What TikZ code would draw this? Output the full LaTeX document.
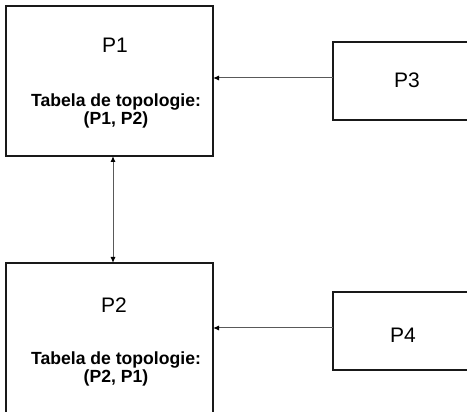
\documentclass[tikz,border=0pt]{standalone}
\usepackage{fontspec}
\setmainfont{Liberation Sans}
\usetikzlibrary{arrows.meta}
\begin{document}
\begin{tikzpicture}[x=1pt,y=-1pt,
  box/.style={draw=black!90, line width=1.3pt, inner sep=0, outer sep=0, anchor=north west},
  lbl/.style={font=\fontsize{21}{23}\selectfont, inner sep=0},
  tbl/.style={font=\bfseries\fontsize{17.6}{17.5}\selectfont, align=center, inner sep=0},
  conn/.style={draw=black!65, line width=1pt, -{Latex[length=6pt,width=5pt,color=black]}},
  dconn/.style={draw=black!65, line width=1pt, {Latex[length=6pt,width=5pt,color=black]}-{Latex[length=6pt,width=5pt,color=black]}}]
\useasboundingbox (0,0) rectangle (467,412);
\clip (0,0) rectangle (467,412);
% boxes
\node[box, minimum width=207pt, minimum height=150pt] (b1) at (6,6) {};
\node[box, minimum width=207pt, minimum height=150pt] (b2) at (6,263) {};
\node[box, minimum width=150pt, minimum height=78pt] (b3) at (333,42) {};
\node[box, minimum width=150pt, minimum height=78pt] (b4) at (333,292) {};
% labels
\node[lbl] (t1) at (115,45) {P1};
\node[tbl] (tt1) at (116,111) {Tabela de topologie:\\(P1, P2)};
\node[lbl] (t2) at (114,305) {P2};
\node[tbl] (tt2) at (116,369) {Tabela de topologie:\\(P2, P1)};
\node[lbl] (t3) at (407,80) {P3};
\node[lbl] (t4) at (403,335) {P4};
% connectors
\draw[conn] ([yshift=3pt]b3.west) -- ([yshift=3pt]b3.west -| b1.east);
\draw[conn] ([yshift=3pt]b4.west) -- ([yshift=3pt]b4.west -| b2.east);
\draw[dconn] ([xshift=3.5pt]b1.south) -- ([xshift=3.5pt]b2.north);
\end{tikzpicture}
\end{document}
